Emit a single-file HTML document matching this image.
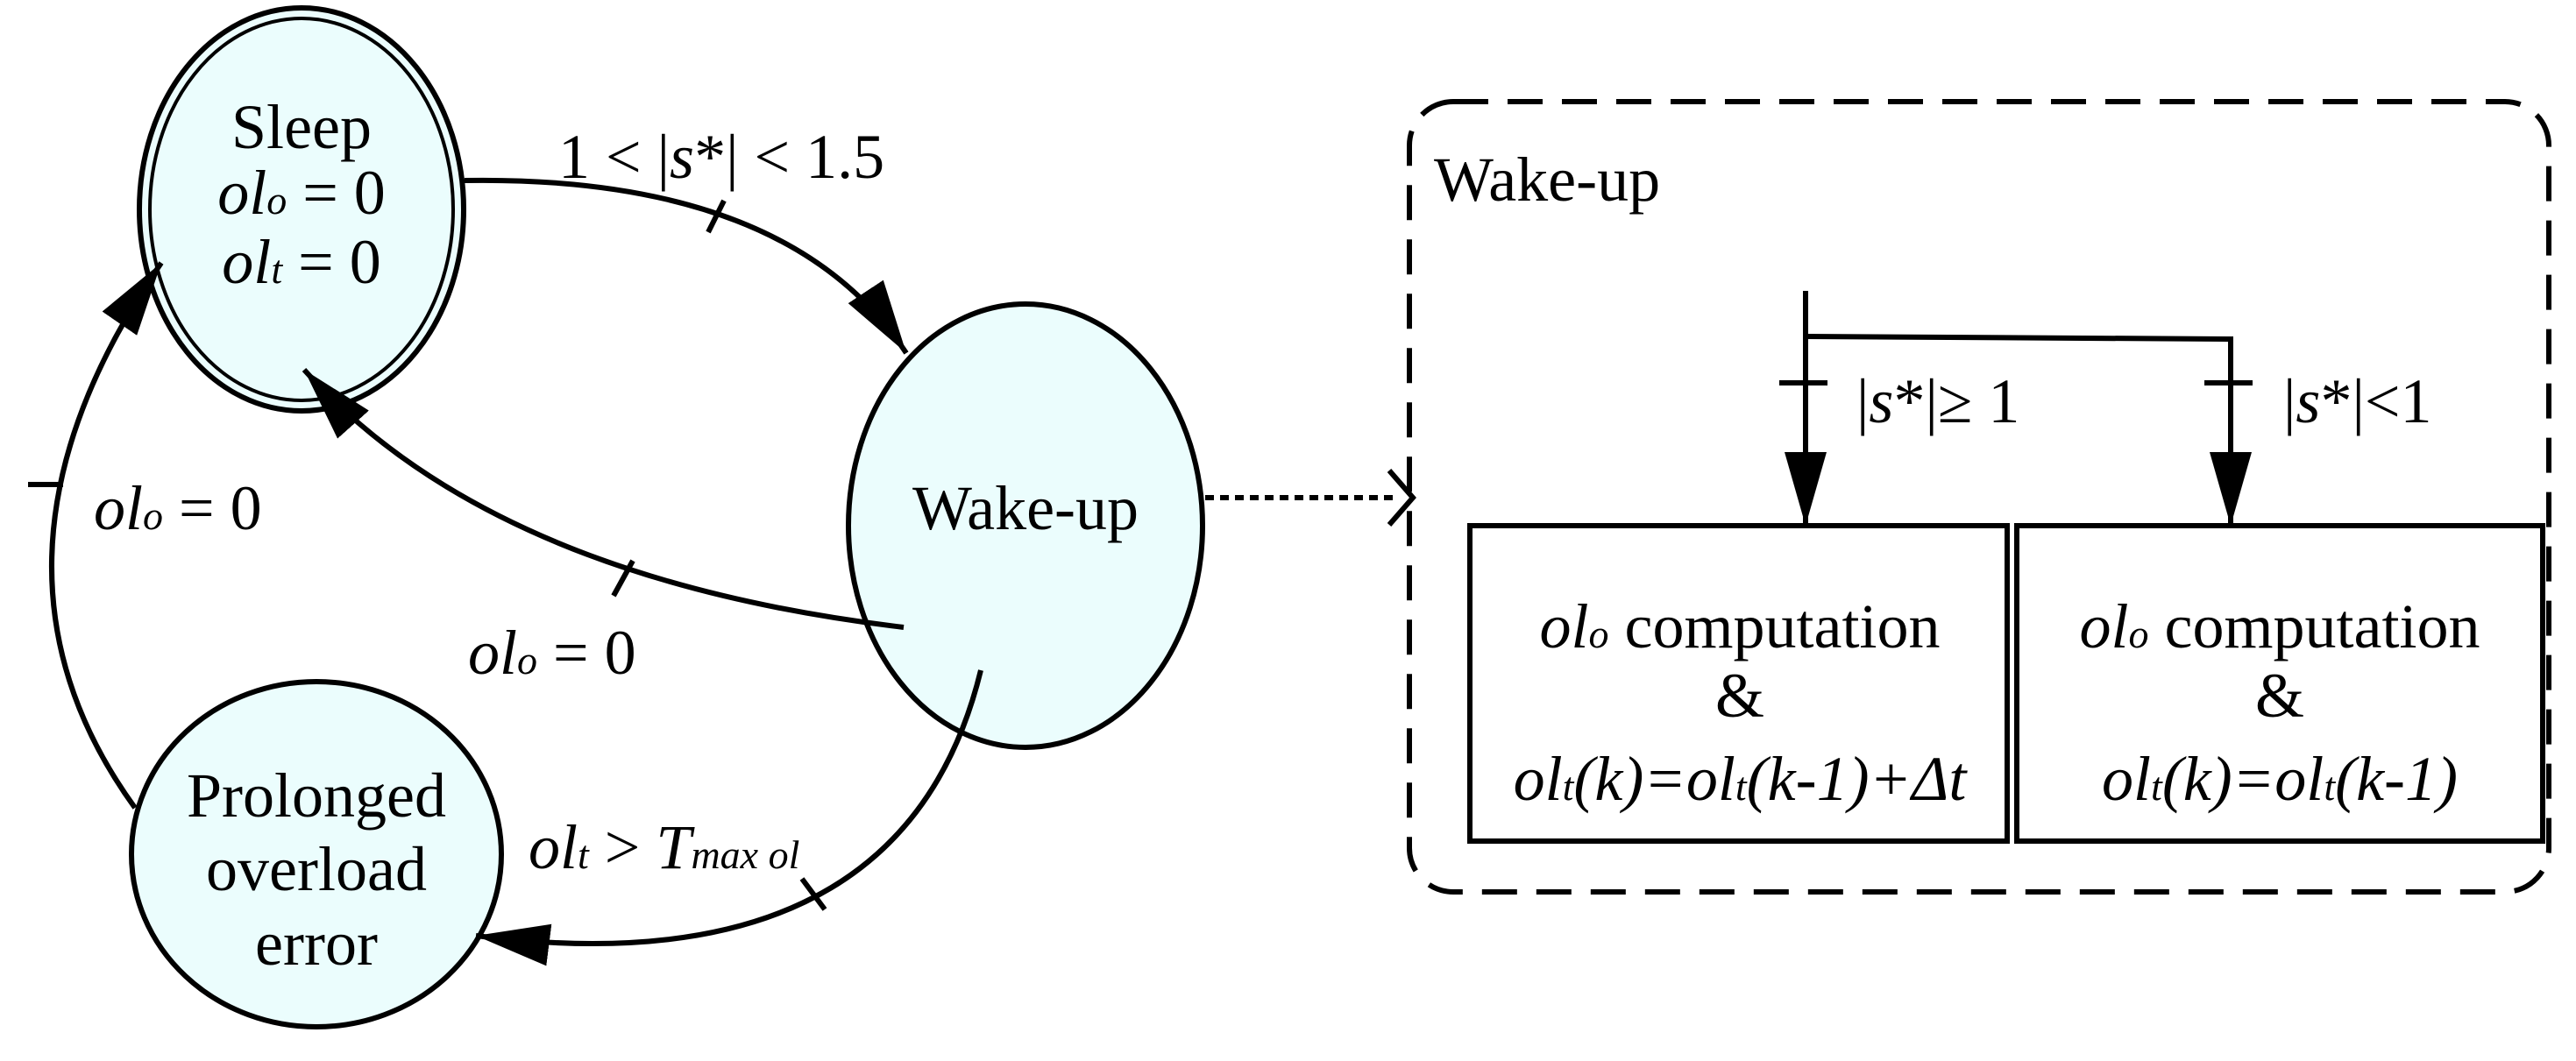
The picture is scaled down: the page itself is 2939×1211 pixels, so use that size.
<!DOCTYPE html>
<html><head><style>html,body{margin:0;padding:0;background:#fff;overflow:hidden}svg{display:block}</style></head>
<body>
<svg width="2939" height="1211" viewBox="0 0 2939 1211" xmlns="http://www.w3.org/2000/svg" font-family="'Liberation Serif', serif" font-size="72">
<defs>
<marker id="a" markerUnits="userSpaceOnUse" markerWidth="100" markerHeight="60" refX="84" refY="24" orient="auto">
<path d="M0,0 L84,24 L0,48 Z" fill="#000"/>
</marker>
</defs>
<g stroke="#000" stroke-width="6" fill="#ebfdfd">
<ellipse cx="344" cy="239" rx="185" ry="230"/>
<ellipse cx="344" cy="239" rx="173" ry="218" stroke-width="4"/>
<ellipse cx="1170" cy="600" rx="202" ry="253"/>
<ellipse cx="361" cy="975" rx="211" ry="197"/>
</g>
<g stroke="#000" stroke-width="6" fill="none">
<path d="M530,206 Q900,200 1034,403" marker-end="url(#a)"/>
<path d="M1031,716 Q560,660 347,422" marker-end="url(#a)"/>
<path d="M154,922 Q-50,640 184,300" marker-end="url(#a)"/>
<path d="M1119,765 Q1030,1130 543,1068" marker-end="url(#a)"/>
<line x1="808" y1="265" x2="826" y2="229"/>
<line x1="700" y1="680" x2="722" y2="640"/>
<line x1="32" y1="553" x2="72" y2="553"/>
<line x1="915" y1="1003" x2="941" y2="1038"/>
<line x1="1375" y1="568" x2="1595" y2="568" stroke-dasharray="10,7"/>
<path d="M1585,537 L1612,568 L1585,599"/>
<rect x="1608" y="116" width="1300" height="902" rx="50" stroke-dasharray="40,22"/>
<line x1="2060" y1="332" x2="2060" y2="600" marker-end="url(#a)"/>
<polyline points="2060,384 2545,387 2545,600" marker-end="url(#a)"/>
<line x1="2030" y1="437" x2="2085" y2="437"/>
<line x1="2515" y1="437" x2="2570" y2="437"/>
<rect x="1677" y="600" width="613" height="360" fill="#fff"/>
<rect x="2301" y="600" width="600" height="360" fill="#fff"/>
</g>
<g transform="translate(0,23)">
<g fill="#000" text-anchor="middle">
<text x="344" y="146">Sleep</text>
<text x="344" y="221"><tspan font-style="italic">ol</tspan><tspan font-style="italic" font-size="46">o</tspan> = 0</text>
<text x="344" y="300"><tspan font-style="italic">ol</tspan><tspan font-style="italic" font-size="46">t</tspan> = 0</text>
<text x="1170" y="581">Wake-up</text>
<text x="361" y="909">Prolonged</text>
<text x="361" y="993">overload</text>
<text x="361" y="1078">error</text>
<text x="1985" y="716"><tspan font-style="italic">ol</tspan><tspan font-style="italic" font-size="46">o</tspan> computation</text>
<text x="1985" y="795">&amp;</text>
<text x="1985" y="890" font-style="italic">ol<tspan font-size="46">t</tspan>(k)=ol<tspan font-size="46">t</tspan>(k-1)+Δt</text>
<text x="2601" y="716"><tspan font-style="italic">ol</tspan><tspan font-style="italic" font-size="46">o</tspan> computation</text>
<text x="2601" y="795">&amp;</text>
<text x="2601" y="890" font-style="italic">ol<tspan font-size="46">t</tspan>(k)=ol<tspan font-size="46">t</tspan>(k-1)</text>
</g>
<g fill="#000">
<text x="637" y="180">1 &lt; |<tspan font-style="italic">s</tspan>*| &lt; 1.5</text>
<text x="534" y="746"><tspan font-style="italic">ol</tspan><tspan font-style="italic" font-size="46">o</tspan> = 0</text>
<text x="107" y="581"><tspan font-style="italic">ol</tspan><tspan font-style="italic" font-size="46">o</tspan> = 0</text>
<text x="603" y="968"><tspan font-style="italic">ol</tspan><tspan font-style="italic" font-size="46">t</tspan> &gt; <tspan font-style="italic">T</tspan><tspan font-style="italic" font-size="46">max ol</tspan></text>
<text x="1636" y="206">Wake-up</text>
<text x="2118" y="459">|<tspan font-style="italic">s</tspan>*|≥ 1</text>
<text x="2605" y="459">|<tspan font-style="italic">s</tspan>*|&lt;1</text>
</g>
</g>
</svg>
</body></html>
